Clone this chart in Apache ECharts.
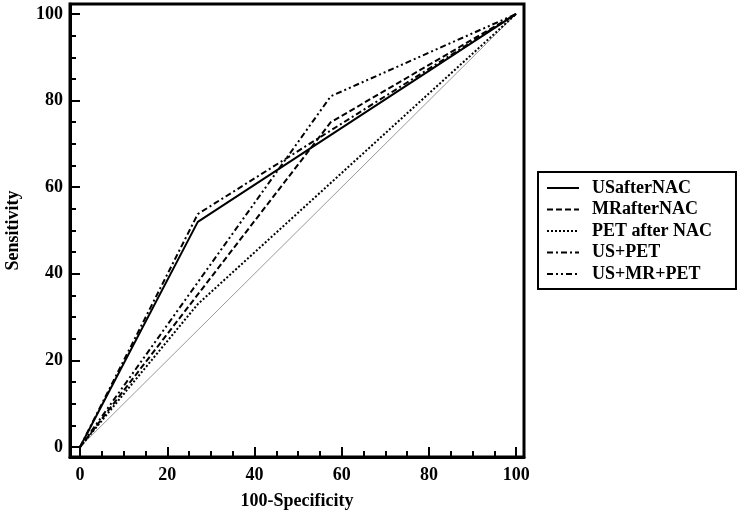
<!DOCTYPE html>
<html><head><meta charset="utf-8">
<script src="https://cdn.jsdelivr.net/npm/echarts@6/dist/echarts.min.js"></script>
<style>html,body{margin:0;padding:0;background:#fff}#c{width:739px;height:512px}</style>
</head><body><div id="c"></div>
<script>
var seriesNames = ['USafterNAC','MRafterNAC','PET after NAC','US+PET','US+MR+PET'];
var usAfterNAC = [[0,0],[27,52],[100,100]];
var mrAfterNAC = [[0,0],[57.5,75],[100,100]];
var petAfterNAC = [[0,0],[27,33],[100,100]];
var usPet = [[0,0],[27,53.8],[100,100]];
var usMrPet = [[0,0],[57.5,81],[100,100]];
var reference = [[0,0],[100,100]];
var majorTicks = [0,20,40,60,80,100];
var minorTicks = [0,5,10,15,20,25,30,35,40,45,50,55,60,65,70,75,80,85,90,95,100];

var font = 'Liberation Serif';
var chart = echarts.init(document.getElementById('c'));
var xMin=-2.3, xMax=101.8, yMin=-2.3, yMax=102.3;
var txt = {fontFamily:font, fontWeight:'bold', fontSize:18, color:'#000'};
var gridRect = {left:70, top:4, width:454, height:453, containLabel:false, outerBoundsMode:'none'};
var option = {
  animation:false,
  color:['#999','#000','#000','#000','#000','#000'],
  grid:[
    Object.assign({show:true, borderColor:'#000', borderWidth:3}, gridRect),
    Object.assign({show:false}, gridRect)
  ],
  legend:{
    orient:'vertical', left:538, top:172, data:seriesNames,
    backgroundColor:'#fff', borderColor:'#000', borderWidth:2,
    padding:[7,24,6,8], itemWidth:32, itemHeight:14, itemGap:3.5,
    itemStyle:{opacity:0},
    textStyle:Object.assign({lineHeight:18, padding:[0,0,0,8]}, txt)
  },
  xAxis:[
    {type:'value', gridIndex:0, min:xMin, max:xMax, position:'bottom', splitLine:{show:false},
      axisLine:{show:true, onZero:false, lineStyle:{color:'#000', width:3}},
      name:'100-Specificity', nameLocation:'middle', nameGap:35, nameTextStyle:txt,
      axisTick:{show:true, inside:true, length:6, customValues:minorTicks, lineStyle:{color:'#000', width:2}},
      axisLabel:Object.assign({customValues:majorTicks, margin:9}, txt)
    },
    {type:'value', gridIndex:1, min:xMin, max:xMax, position:'bottom', splitLine:{show:false},
      axisLine:{show:false, onZero:false},
      axisTick:{show:true, inside:true, length:10, customValues:majorTicks, lineStyle:{color:'#000', width:2}},
      axisLabel:{show:false}
    }
  ],
  yAxis:[
    {type:'value', gridIndex:0, min:yMin, max:yMax, position:'left', splitLine:{show:false},
      axisLine:{show:true, onZero:false, lineStyle:{color:'#000', width:3}},
      name:'Sensitivity', nameLocation:'middle', nameGap:48, nameTextStyle:txt,
      axisTick:{show:true, inside:true, length:6, customValues:minorTicks, lineStyle:{color:'#000', width:2}},
      axisLabel:Object.assign({customValues:majorTicks, margin:7}, txt)
    },
    {type:'value', gridIndex:1, min:yMin, max:yMax, position:'left', splitLine:{show:false},
      axisLine:{show:false, onZero:false},
      axisTick:{show:true, inside:true, length:10, customValues:majorTicks, lineStyle:{color:'#000', width:2}},
      axisLabel:{show:false}
    }
  ],
  series:[
    {name:'reference', type:'line', data:reference, symbol:'none', silent:true,
      lineStyle:{color:'#999', width:1}},
    {name:seriesNames[0], type:'line', data:usAfterNAC, symbol:'none', lineStyle:{color:'#000', width:2, type:'solid'}},
    {name:seriesNames[1], type:'line', data:mrAfterNAC, symbol:'none', lineStyle:{color:'#000', width:2, type:[6,3]}},
    {name:seriesNames[2], type:'line', data:petAfterNAC, symbol:'none', lineStyle:{color:'#000', width:2, type:[2,2]}},
    {name:seriesNames[3], type:'line', data:usPet, symbol:'none', lineStyle:{color:'#000', width:2, type:[6,3,2,3]}},
    {name:seriesNames[4], type:'line', data:usMrPet, symbol:'none', lineStyle:{color:'#000', width:2, type:[6,3,2,3,2,3]}}
  ]
};
chart.setOption(option);
</script></body></html>
